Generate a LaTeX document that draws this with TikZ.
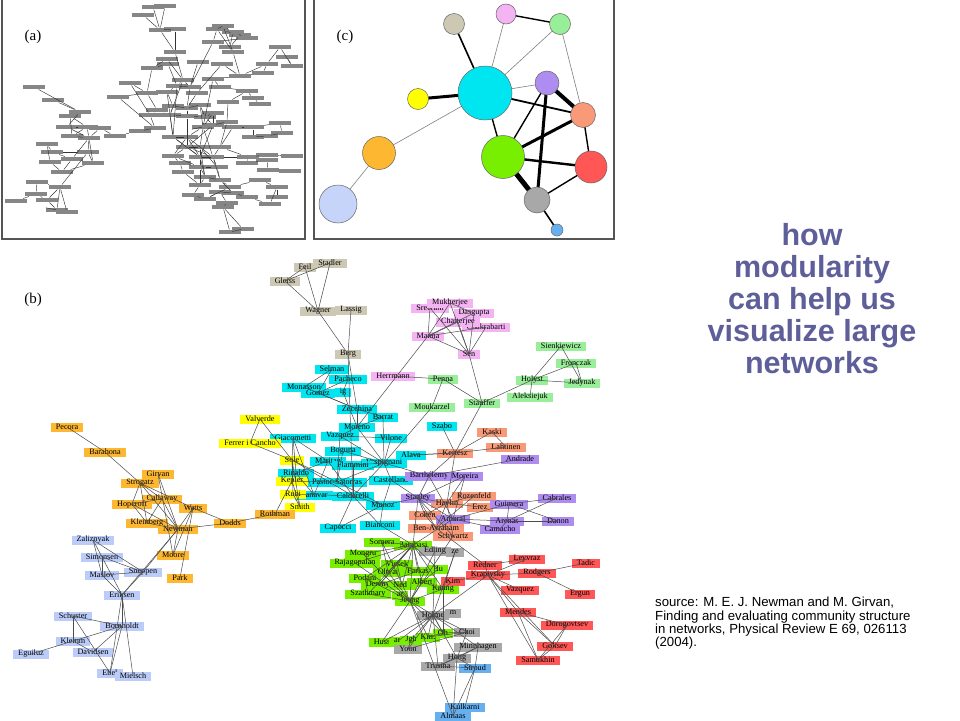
\documentclass[tikz,border=0pt]{standalone}
\usepackage{fontspec}
\setmainfont{Liberation Serif}
\newfontfamily\hfont{Liberation Sans}
\definecolor{tanc}{HTML}{CDC8B4}
\definecolor{pinkc}{HTML}{F4B4F4}
\definecolor{lgreenc}{HTML}{99EE99}
\definecolor{cyanc}{HTML}{00E6F0}
\definecolor{yellowc}{HTML}{FFFF00}
\definecolor{orangec}{HTML}{FDB730}
\definecolor{lbluec}{HTML}{BCCCF8}
\definecolor{salmonc}{HTML}{F89A78}
\definecolor{purplec}{HTML}{AE8CF0}
\definecolor{greenc}{HTML}{78EE00}
\definecolor{grayc}{HTML}{A8A8A8}
\definecolor{redc}{HTML}{FF5656}
\definecolor{bluec}{HTML}{66B0F0}
\definecolor{headc}{HTML}{5E5E9A}
\definecolor{framec}{HTML}{555555}
\definecolor{barc}{HTML}{868686}
\tikzset{
 bn/.style={inner xsep=5pt,inner ysep=0pt,minimum height=9pt,font=\fontsize{8.2}{9}\selectfont,text=black},
 tb/.style={bn,fill=tanc}, pb/.style={bn,fill=pinkc}, gb/.style={bn,fill=lgreenc},
 cb/.style={bn,fill=cyanc}, yb/.style={bn,fill=yellowc}, ob/.style={bn,fill=orangec},
 lb/.style={bn,fill=lbluec}, sb/.style={bn,fill=salmonc}, ub/.style={bn,fill=purplec},
 eb/.style={bn,fill=greenc}, gyb/.style={bn,fill=grayc}, rb/.style={bn,fill=redc},
 bb/.style={bn,fill=bluec},
 bedge/.style={draw=black!70,line width=0.5pt},
 abar/.style={fill=barc,inner sep=0pt,minimum width=22pt,minimum height=4.6pt},
 aedge/.style={draw=black!80,line width=0.45pt},
 frame/.style={draw=framec,line width=1.3pt},
 cc/.style={circle,draw=black!60,line width=0.5pt,inner sep=0pt},
 thin/.style={draw=gray,line width=0.6pt},
 med/.style={draw=black,line width=1.4pt},
 plabel/.style={font=\fontsize{15}{17}\selectfont}
}
\begin{document}
\begin{tikzpicture}[x=1pt,y=-1pt]
\useasboundingbox (0,0) rectangle (960,720);
\fill[white] (0,0) rectangle (960,720);
% ---------------- panel (a)
\draw[frame] (2,-2) rectangle (305,239);
\node[plabel] (la) at (33,37) {(a)};
\foreach \i/\x/\y in {1/165/6,2/143/15,3/153/7,4/160/30,5/175/29,6/175/52,7/223/26,8/217/29,9/233/32,10/240/35,
11/247/38,12/213/42,13/230/47,14/233/52,15/280/47,16/287/57,17/267/64,18/292/66,19/263/73,20/240/76,
21/198/62,22/222/64,23/167/59,24/168/64,25/152/68,26/213/79,27/183/80,28/177/86,29/190/87,30/130/83,
31/147/93,32/118/97,33/167/92,34/197/93,35/220/87,36/247/91,37/253/98,38/228/102,39/260/104,40/34/87,
41/53/100,42/80/112,43/70/116,44/67/127,45/87/127,46/100/128,47/72/136,48/89/138,49/115/136,50/140/131,
51/155/128,52/150/115,53/157/110,54/173/106,55/187/108,56/200/105,57/170/115,58/187/116,59/205/117,60/213/113,
61/173/137,62/187/137,63/203/127,64/213/125,65/227/122,66/233/127,67/253/127,68/280/123,69/282/133,70/253/137,
71/267/136,72/47/144,73/52/152,74/50/162,75/72/159,76/62/172,77/88/152,78/93/163,79/173/156,80/187/147,
81/200/147,82/180/163,83/183/172,84/200/157,85/213/157,86/200/167,87/217/167,88/220/147,89/248/157,90/267/155,
91/292/156,92/247/163,93/267/160,94/268/170,95/290/171,96/205/177,97/220/180,98/200/185,99/230/187,100/260/180,
101/277/187,102/193/195,103/205/199,104/220/192,105/233/193,106/247/197,107/227/203,108/223/207,109/270/204,110/277/197,
111/230/232,112/243/229,113/37/182,114/60/187,115/36/194,116/16/201,117/47/200,118/57/210,119/67/212}
  \node[abar] (a\i) at (\x,\y) {};
\foreach \p/\q in {2/4,3/4,1/4,4/6,4/5,5/6,6/27,7/8,7/9,8/10,9/11,8/12,9/13,10/13,12/13,13/14,7/14,11/12,8/14,12/29,14/20,
15/17,15/18,16/18,17/19,19/20,17/20,20/22,20/26,23/25,24/25,23/27,24/28,25/31,27/28,28/29,27/29,28/33,21/29,22/34,26/35,
30/31,30/52,31/32,32/51,31/53,33/54,34/55,35/36,36/37,37/39,36/38,38/65,26/63,29/55,27/57,28/61,33/61,
40/42,41/42,42/44,43/45,43/47,44/45,44/48,45/47,45/48,46/48,46/49,47/48,48/75,48/77,48/78,49/50,50/51,51/52,52/53,53/57,
54/55,55/56,56/59,57/58,58/59,59/60,57/61,58/62,60/63,61/62,62/63,63/64,64/65,65/66,66/67,67/68,67/70,68/69,69/71,70/71,
64/80,63/81,65/88,66/88,62/79,61/80,79/80,80/81,79/82,82/83,80/84,81/84,84/85,84/86,85/87,86/87,88/85,82/86,83/98,86/96,
87/97,85/89,89/90,89/92,90/91,92/93,93/94,94/95,90/93,88/89,96/97,96/98,97/99,98/102,99/103,99/104,100/101,101/109,101/110,
100/99,102/103,103/104,104/105,105/106,104/107,107/108,108/111,108/112,111/112,106/109,97/105,72/73,72/74,73/75,74/76,75/76,
73/77,77/78,76/78,75/78,113/114,113/115,114/117,115/116,115/117,117/118,118/119,114/118,114/119,77/114,60/64,56/63,80/62,
84/96,86/98,58/80,55/58,54/57,59/64,63/85,62/84,61/84,79/86,80/85,81/87,62/85,64/84,81/96,85/97}
  \draw[aedge] (a\p) -- (a\q);
% ---------------- panel (c)
\draw[frame] (314,-2) rectangle (614,239);
\node[plabel] (lc) at (345,37) {(c)};
\coordinate (cT) at (454,24);
\coordinate (cP) at (506,14);
\coordinate (cLG) at (560,24);
\coordinate (cC) at (485,93);
\coordinate (cU) at (547,83);
\coordinate (cY) at (418,99);
\coordinate (cS) at (583,115);
\coordinate (cO) at (379,153);
\coordinate (cG) at (503,157);
\coordinate (cR) at (591,167);
\coordinate (cGy) at (537,200);
\coordinate (cLB) at (338,204);
\coordinate (cB) at (557,230);
\draw[thin] (cP) -- (cC);
\draw[thin] (cLG) -- (cC);
\draw[thin] (cLG) -- (cS);
\draw[thin] (cC) -- (cU);
\draw[thin] (cO) -- (cC);
\draw[thin] (cLB) -- (cO);
\draw[draw=black,line width=1.6pt] (cT) -- (cC);
\draw[med] (cP) -- (cLG);
\draw[draw=black,line width=3pt] (cY) -- (cC);
\draw[draw=black,line width=1.8pt] (cC) -- (cS);
\draw[med] (cC) -- (cG);
\draw[draw=black,line width=4pt] (cU) -- (cS);
\draw[med] (cU) -- (cG);
\draw[draw=black,line width=3pt] (cU) -- (cGy);
\draw[draw=black,line width=3pt] (cG) -- (cS);
\draw[draw=black,line width=2.4pt] (cG) -- (cR);
\draw[draw=black,line width=5pt] (cG) -- (cGy);
\draw[med] (cS) -- (cR);
\draw[med] (cR) -- (cGy);
\draw[draw=black,line width=1.6pt] (cGy) -- (cB);
\node[cc,fill=tanc,minimum size=21pt] (nT) at (cT) {};
\node[cc,fill=pinkc,minimum size=20pt] (nP) at (cP) {};
\node[cc,fill=lgreenc,minimum size=21pt] (nLG) at (cLG) {};
\node[cc,fill=cyanc,minimum size=54pt] (nC) at (cC) {};
\node[cc,fill=purplec,minimum size=24pt] (nU) at (cU) {};
\node[cc,fill=yellowc,minimum size=21pt] (nY) at (cY) {};
\node[cc,fill=salmonc,minimum size=25pt] (nS) at (cS) {};
\node[cc,fill=orangec,minimum size=33pt] (nO) at (cO) {};
\node[cc,fill=greenc,minimum size=43pt] (nG) at (cG) {};
\node[cc,fill=redc,minimum size=32pt] (nR) at (cR) {};
\node[cc,fill=grayc,minimum size=26pt] (nGy) at (cGy) {};
\node[cc,fill=lbluec!85!white,minimum size=38pt] (nLB) at (cLB) {};
\node[cc,fill=bluec,minimum size=12pt] (nB) at (cB) {};
% ---------------- panel (b)
\node[plabel] (lb) at (33,300) {(b)};
% tan
\node[tb] (Feil) at (305,267) {Feil};
\node[tb] (Stadler) at (330,263) {Stadler};
\node[tb] (Gleiss) at (285,281) {Gleiss};
\node[tb] (Wagner) at (318,311) {Wagner};
\node[tb] (Lassig) at (351,310) {Lassig};
\node[tb] (Berg) at (348,354) {Berg};
% pink
\node[pb] (Sreeram) at (430,308) {Sreeram};
\node[pb] (Mukherjee) at (450,303) {Mukherjee};
\node[pb] (Dasgupta) at (474,313) {Dasgupta};
\node[pb] (Chakrabarti) at (486,327) {Chakrabarti};
\node[pb] (Chatterjee) at (458,322) {Chatterjee};
\node[pb] (Manna) at (428,336) {Manna};
\node[pb] (Sen) at (469,354) {Sen};
\node[pb] (Herrmann) at (393,376) {Herrmann};
% light green
\node[gb] (Penna) at (443,379) {Penna};
\node[gb] (Sienkiewicz) at (561,346) {Sienkiewicz};
\node[gb] (Fronczak) at (576,363) {Fronczak};
\node[gb] (Holyst) at (532,380) {Holyst};
\node[gb] (Jedynak) at (582,383) {Jedynak};
\node[gb] (Aleksiejuk) at (530,397) {Aleksiejuk};
\node[gb] (Stauffer) at (482,403) {Stauffer};
\node[gb] (Moukarzel) at (432,407) {Moukarzel};
% cyan
\node[cb] (Selman) at (332,369) {Selman};
\node[cb] (Pacheco) at (348,379) {Pacheco};
\node[cb] (Monasson) at (304,387) {Monasson};
\node[cb] (Ig) at (343,392) {ig};
\node[cb] (Gomez) at (318,393) {Gomez};
\node[cb] (Zecchina) at (357,409) {Zecchina};
\node[cb] (Barrat) at (383,417) {Barrat};
\node[cb] (Moreno) at (357,427) {Moreno};
\node[cb] (VazquezC) at (340,436) {Vazquez};
\node[cb] (Vilone) at (391,438) {Vilone};
\node[cb] (Giacometti) at (293,438) {Giacometti};
\node[cb] (Boguna) at (343,451) {Boguna};
\node[cb] (Alava) at (411,455) {Alava};
\node[cb] (Szabo) at (442,426) {Szabo};
\node[cb] (Vespignani) at (384,463) {Vespignani};
\node[cb] (Maritan) at (328,461) {Maritan};
\node[cb] (Flammini) at (353,465) {Flammini};
\node[cb] (Rinaldo) at (296,473) {Rinaldo};
\node[cb] (Castellano) at (391,480) {Castellano};
\node[cb] (PastorSatorras) at (337,482) {Pastor-Satorras};
\node[cb] (Banavar) at (314,495) {Banavar};
\node[cb] (Caldarelli) at (353,496) {Caldarelli};
\node[cb] (Munoz) at (383,505) {Munoz};
\node[cb] (Capocci) at (338,528) {Capocci};
\node[cb] (Bianconi) at (380,525) {Bianconi};
% yellow
\node[yb] (Valverde) at (260,419) {Valverde};
\node[yb] (Ferrer) at (250,443) {Ferrer i Cancho};
\node[yb] (Sole) at (292,460) {Sole};
\node[yb] (Kepler) at (292,481) {Kepler};
\node[yb] (Rubi) at (293,494) {Rubi};
\node[yb] (Smith) at (300,507) {Smith};
% orange
\node[ob] (Pecora) at (67,427) {Pecora};
\node[ob] (Barahona) at (105,452) {Barahona};
\node[ob] (Girvan) at (158,474) {Girvan};
\node[ob] (Strogatz) at (140,483) {Strogatz};
\node[ob] (Callaway) at (162,499) {Callaway};
\node[ob] (Hopcroft) at (132,504) {Hopcroft};
\node[ob] (Watts) at (193,508) {Watts};
\node[ob] (Kleinberg) at (147,523) {Kleinberg};
\node[ob] (Newman) at (178,529) {Newman};
\node[ob] (Dodds) at (230,523) {Dodds};
\node[ob] (Rothman) at (275,514) {Rothman};
\node[ob] (Moore) at (173,555) {Moore};
\node[ob] (Park) at (180,578) {Park};
% light blue
\node[lb] (Zaliznyak) at (93,540) {Zaliznyak};
\node[lb] (Simonsen) at (102,557) {Simonsen};
\node[lb] (Maslov) at (102,575) {Maslov};
\node[lb] (Sneppen) at (143,572) {Sneppen};
\node[lb] (Eriksen) at (122,595) {Eriksen};
\node[lb] (Schuster) at (73,616) {Schuster};
\node[lb] (Bornholdt) at (122,626) {Bornholdt};
\node[lb] (Klemm) at (73,641) {Klemm};
\node[lb] (Eguiluz) at (31,654) {Eguiluz};
\node[lb] (Davidsen) at (93,652) {Davidsen};
\node[lb] (Ebel) at (110,673) {Ebel};
\node[lb] (Mielsch) at (133,676) {Mielsch};
% salmon / purple
\node[sb] (Kaski) at (492,432) {Kaski};
\node[sb] (Lahtinen) at (506,447) {Lahtinen};
\node[sb] (Kertesz) at (455,453) {Kertesz};
\node[ub] (Andrade) at (520,459) {Andrade};
\node[ub] (Barthelemy) at (429,476) {Barthélemy};
\node[ub] (Moreira) at (465,476) {Moreira};
\node[sb] (Havlin) at (447,503) {Havlin};
\node[sb] (Rozenfeld) at (474,496) {Rozenfeld};
\node[sb] (Erez) at (480,507) {Erez};
\node[ub] (Stanley) at (418,498) {Stanley};
\node[ub] (Guimera) at (509,504) {Guimera};
\node[ub] (Cabrales) at (557,498) {Cabrales};
\node[sb] (Cohen) at (425,515) {Cohen};
\node[ub] (Amaral) at (453,519) {Amaral};
\node[ub] (Arenas) at (507,521) {Arenas};
\node[ub] (Danon) at (558,521) {Danon};
\node[ub] (Camacho) at (500,529) {Camacho};
\node[sb] (BenAvraham) at (436,528) {Ben-Avraham};
\node[sb] (Schwartz) at (453,536) {Schwartz};
% green
\node[eb] (Barabasi) at (413,545) {Barabasi};
\node[eb] (Somera) at (382,542) {Somera};
\node[gyb] (Ze) at (455,552) {ze};
\node[gyb] (Edling) at (435,551) {Edling};
\node[eb] (Mongru) at (363,554) {Mongru};
\node[eb] (Rajagopalan) at (355,563) {Rajagopalan};
\node[eb] (Vicsek) at (397,564) {Vicsek};
\node[eb] (Hu) at (438,569) {Hu};
\node[eb] (Farkas) at (418,571) {Farkas};
\node[eb] (Oltvai) at (388,572) {Oltvai};
\node[eb] (Podani) at (365,578) {Podani};
\node[eb] (Derenyi) at (379,585) {Derenyi};
\node[eb] (Neda) at (402,585) {Neda};
\node[eb] (Albert) at (422,582) {Albert};
\node[eb] (Kahng) at (443,589) {Kahng};
\node[eb] (Szathmary) at (368,594) {Szathmary};
\node[eb] (Ar) at (400,595) {ar};
\node[eb] (Jeong) at (410,601) {Jeong};
% gray
\node[gyb] (Gm) at (453,613) {m};
\node[gyb] (Holme) at (433,615) {Holme};
\node[gyb] (Choi) at (467,632) {Choi};
\node[eb] (Huss) at (382,642) {Huss};
\node[eb] (An) at (398,641) {an};
\node[eb] (Jgh) at (411,640) {Jgh};
\node[eb] (KimG) at (428,637) {Kim};
\node[eb] (Oh) at (443,633) {Oh};
\node[gyb] (Yoon) at (408,649) {Yoon};
\node[gyb] (Minnhagen) at (478,647) {Minnhagen};
\node[gyb] (Hong) at (457,658) {Hong};
\node[gyb] (Trusina) at (438,666) {Trusina};
% red
\node[rb] (Leyvraz) at (527,559) {Leyvraz};
\node[rb] (Redner) at (485,565) {Redner};
\node[rb] (Tadic) at (586,563) {Tadic};
\node[rb] (KimR) at (453,581) {Kim};
\node[rb] (Krapivsky) at (488,575) {Krapivsky};
\node[rb] (Rodgers) at (537,573) {Rodgers};
\node[rb] (VazquezR) at (520,590) {Vazquez};
\node[rb] (Ergun) at (580,594) {Ergun};
\node[rb] (Mendes) at (518,612) {Mendes};
\node[rb] (Dorogovtsev) at (567,625) {Dorogovtsev};
\node[rb] (Goltsev) at (555,646) {Goltsev};
\node[rb] (Samukhin) at (538,660) {Samukhin};
% blue
\node[bb] (Stroud) at (475,668) {Stroud};
\node[bb] (Kulkarni) at (465,707) {Kulkarni};
\node[bb] (Almaas) at (453,716) {Almaas};
% edges (b)
\foreach \a/\b in {Feil/Gleiss,Feil/Wagner,Stadler/Wagner,Gleiss/Wagner,Stadler/Gleiss,Wagner/Berg,Lassig/Berg,Berg/Caldarelli,Berg/Zecchina,
Sreeram/Manna,Mukherjee/Manna,Chatterjee/Manna,Dasgupta/Manna,Chakrabarti/Manna,Manna/Sen,Mukherjee/Sen,Sreeram/Sen,Dasgupta/Sen,
Chakrabarti/Sen,Chatterjee/Sen,Mukherjee/Dasgupta,Manna/Moreno,Sen/Stauffer,Herrmann/Penna,
Penna/Stauffer,Penna/Moukarzel,Stauffer/Holyst,Holyst/Sienkiewicz,Holyst/Fronczak,Holyst/Jedynak,Sienkiewicz/Jedynak,
Fronczak/Jedynak,Holyst/Aleksiejuk,Stauffer/Kertesz,Moukarzel/Vespignani,
Selman/Monasson,Selman/Gomez,Pacheco/Gomez,Pacheco/Ig,Monasson/Zecchina,Gomez/Zecchina,Ig/Moreno,Zecchina/Moreno,Zecchina/Barrat,
Barrat/Moreno,Barrat/Vespignani,Moreno/VazquezC,VazquezC/Vilone,Moreno/Vespignani,VazquezC/Vespignani,VazquezC/PastorSatorras,
Vilone/Vespignani,Giacometti/Maritan,Giacometti/Rinaldo,Giacometti/Banavar,Maritan/Rinaldo,Maritan/Banavar,Maritan/Caldarelli,
Rinaldo/Banavar,Boguna/PastorSatorras,Boguna/Vespignani,Flammini/Vespignani,Flammini/Caldarelli,Vespignani/PastorSatorras,
Vespignani/Caldarelli,Vespignani/Castellano,Alava/Kertesz,Szabo/Kertesz,Castellano/Munoz,Caldarelli/Capocci,Caldarelli/Munoz,
Caldarelli/Bianconi,Capocci/Munoz,PastorSatorras/Munoz,Bianconi/Munoz,Bianconi/Barabasi,Vespignani/Barthelemy,Castellano/Stanley,
Caldarelli/Sole,Sole/Giacometti,Munoz/Stanley,
Valverde/Ferrer,Valverde/Sole,Ferrer/Sole,Sole/Kepler,Sole/Rubi,Sole/Smith,Kepler/Smith,Rubi/Smith,Sole/PastorSatorras,
Kepler/PastorSatorras,Rubi/Caldarelli,Rothman/Kepler,
Pecora/Barahona,Barahona/Strogatz,Strogatz/Callaway,Strogatz/Hopcroft,Strogatz/Kleinberg,Strogatz/Watts,Strogatz/Newman,
Girvan/Newman,Callaway/Newman,Callaway/Hopcroft,Callaway/Kleinberg,Hopcroft/Kleinberg,Hopcroft/Newman,Kleinberg/Newman,
Watts/Newman,Watts/Moore,Watts/Park,Watts/Dodds,Newman/Moore,Newman/Dodds,Newman/Sneppen,Newman/Eriksen,Dodds/Rothman,Girvan/Moore,
Zaliznyak/Maslov,Zaliznyak/Simonsen,Zaliznyak/Sneppen,Simonsen/Sneppen,Simonsen/Maslov,Simonsen/Eriksen,Maslov/Sneppen,
Maslov/Eriksen,Sneppen/Eriksen,Eriksen/Bornholdt,Eriksen/Ebel,Eriksen/Mielsch,Bornholdt/Schuster,Bornholdt/Klemm,
Bornholdt/Davidsen,Bornholdt/Ebel,Schuster/Klemm,Schuster/Ebel,Klemm/Eguiluz,Klemm/Davidsen,
Kaski/Kertesz,Lahtinen/Kertesz,Kaski/Lahtinen,Kertesz/Alava,Kertesz/Barthelemy,Kertesz/Havlin,Andrade/Barthelemy,
Stanley/Barthelemy,Stanley/Moreira,Stanley/Havlin,Stanley/Amaral,Stanley/Cohen,Stanley/BenAvraham,Stanley/Schwartz,
Havlin/Cohen,Havlin/Rozenfeld,Havlin/BenAvraham,Havlin/Schwartz,Havlin/Erez,Havlin/Moreira,Rozenfeld/BenAvraham,
Cohen/BenAvraham,Amaral/Guimera,Amaral/Moreira,Amaral/Barthelemy,Amaral/Arenas,Amaral/Camacho,Guimera/Arenas,
Guimera/Danon,Guimera/Cabrales,Arenas/Danon,Arenas/Cabrales,Arenas/Camacho,Amaral/Barabasi,Stanley/Barabasi,Schwartz/Jeong,
Barabasi/Somera,Barabasi/Mongru,Barabasi/Rajagopalan,Barabasi/Vicsek,Barabasi/Oltvai,Barabasi/Farkas,Barabasi/Podani,
Barabasi/Derenyi,Barabasi/Neda,Barabasi/Albert,Barabasi/Kahng,Barabasi/Szathmary,Barabasi/Jeong,Barabasi/Hu,
Jeong/Oltvai,Jeong/Somera,Jeong/Mongru,Jeong/Rajagopalan,Jeong/Albert,Jeong/Podani,Jeong/Szathmary,Jeong/Holme,Jeong/KimG,
Jeong/Huss,Jeong/Oh,Oltvai/Somera,Vicsek/Farkas,Vicsek/Derenyi,Vicsek/Neda,Farkas/Derenyi,Albert/Kahng,Albert/Hu,
Podani/Szathmary,Kahng/Oh,Kahng/KimR,Jeong/Kahng,
Holme/KimG,Holme/Edling,Holme/Ze,Holme/Choi,Holme/Minnhagen,Holme/Trusina,Holme/Hong,Holme/Yoon,Holme/Jgh,Holme/Huss,
Holme/An,Holme/Oh,KimG/Oh,KimG/Choi,Oh/Choi,Minnhagen/Trusina,Hong/Trusina,Hong/Minnhagen,Choi/Yoon,Hong/Choi,Jgh/Yoon,
Edling/Jeong,Ze/Kahng,
Redner/Krapivsky,Redner/Leyvraz,Krapivsky/Leyvraz,Krapivsky/Rodgers,Rodgers/Tadic,Rodgers/Ergun,Krapivsky/VazquezR,
Krapivsky/Mendes,Krapivsky/Samukhin,Krapivsky/Goltsev,Mendes/Dorogovtsev,Mendes/Goltsev,Mendes/Samukhin,
Dorogovtsev/Goltsev,Dorogovtsev/Samukhin,Goltsev/Samukhin,Redner/BenAvraham,Krapivsky/KimR,Krapivsky/Holme,
Stroud/Trusina,Stroud/Kulkarni,Stroud/Almaas,Stroud/Hong,Almaas/Hong,Almaas/Jeong,Stroud/Minnhagen}
  \draw[bedge] (\a.center) -- (\b.center);
% ---------------- right texts
\node[align=center,text=headc,font=\hfont\bfseries\fontsize{30.5}{32}\selectfont] (title) at (812,299)
 {how\\modularity\\can help us\\visualize large\\networks};
\node[anchor=north west,align=left,inner sep=0pt,font=\hfont\fontsize{13.2}{13.4}\selectfont] (src) at (655,597)
 {source: M. E. J. Newman and M. Girvan,\\Finding and evaluating community structure\\in networks, Physical Review E 69, 026113\\(2004).};
\end{tikzpicture}
\end{document}
